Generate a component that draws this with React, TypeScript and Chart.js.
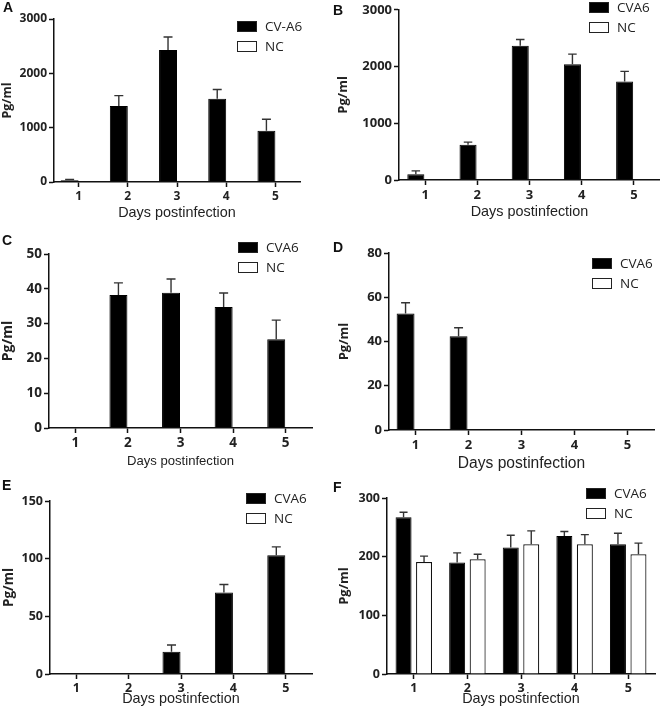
import React, { useEffect, useRef } from "react";
import { Chart, registerables } from "chart.js";
Chart.register(...registerables);

// ---------- data ----------
const days = ["1", "2", "3", "4", "5"];
const seriesNames = ["CV-A6", "CVA6", "CVA6", "CVA6", "CVA6", "CVA6"];
const ncName = "NC";
const yTitle = "Pg/ml";
const xTitle = "Days postinfection";
const panelLetters = ["A", "B", "C", "D", "E", "F"];

const aCVA6 = [30, 1400, 2430, 1530, 945];
const aCVA6Err = [15, 190, 240, 172, 210];
const aNC = [0, 0, 0, 0, 0];

const bCVA6 = [103, 621, 2368, 2040, 1736];
const bCVA6Err = [58, 46, 109, 178, 178];
const bNC = [0, 0, 0, 0, 0];

const cCVA6 = [0, 38.2, 38.9, 34.8, 25.5];
const cCVA6Err = [0, 3.5, 3.9, 4.0, 5.5];
const cNC = [0, 0, 0, 0, 0];

const dCVA6 = [52.7, 42.4, 0, 0, 0];
const dCVA6Err = [4.8, 3.8, 0, 0, 0];
const dNC = [0, 0, 0, 0, 0];

const eCVA6 = [0, 0, 19.3, 70.7, 103];
const eCVA6Err = [0, 0, 5.8, 6.9, 7.2];
const eNC = [0, 0, 0, 0, 0];

const fCVA6 = [267, 190, 215.5, 235.4, 221.2];
const fCVA6Err = [8.6, 16.5, 21, 7.4, 18.8];
const fNC = [191, 195.7, 221, 221, 204];
const fNCErr = [10, 8.5, 23, 16.5, 19];

const yMaxes = [3000, 3000, 50, 80, 150, 300];
const ySteps = [1000, 1000, 10, 20, 50, 100];

const cvaValues = [aCVA6, bCVA6, cCVA6, dCVA6, eCVA6, fCVA6];
const cvaErrors = [aCVA6Err, bCVA6Err, cCVA6Err, dCVA6Err, eCVA6Err, fCVA6Err];
const ncValues = [aNC, bNC, cNC, dNC, eNC, fNC];
const ncErrors = [null, null, null, null, null, fNCErr];

// ---------- layout ----------
type Layout = {
  x0: number; y0: number; w: number;
  L: number; T: number; R: number; B: number;
  titleY: number; xTitleSize: number; tickSize: number;
  yTitleSize: number; yTitleX: number;
  bp: number; cp: number;
  legendX: number; legendY: number;
  letterLeft: number; letterCapTop: number;
};

const layouts: Layout[] = [
  { x0: 0, y0: 0, w: 330, L: 54, T: 19, R: 300, B: 182, titleY: 213, xTitleSize: 14.4, tickSize: 12, yTitleSize: 12.5, yTitleX: 7, bp: 1, cp: 0.73, legendX: 237, legendY: 21, letterLeft: 3, letterCapTop: 2 },
  { x0: 330, y0: 0, w: 330, L: 399, T: 6, R: 660, B: 180, titleY: 212, xTitleSize: 14.4, tickSize: 13, yTitleSize: 13, yTitleX: 13.5, bp: 0.92, cp: 0.71, legendX: 589, legendY: 2, letterLeft: 333, letterCapTop: 5 },
  { x0: 0, y0: 230, w: 330, L: 49, T: 254, R: 312, B: 428, titleY: 461, xTitleSize: 13.1, tickSize: 13.5, yTitleSize: 14, yTitleX: 7.5, bp: 0.95, cp: 0.72, legendX: 238, legendY: 242, letterLeft: 2, letterCapTop: 235 },
  { x0: 330, y0: 230, w: 330, L: 389, T: 253, R: 654, B: 430, titleY: 464, xTitleSize: 15.6, tickSize: 13, yTitleSize: 13, yTitleX: 14, bp: 0.9, cp: 0.75, legendX: 592, legendY: 258, letterLeft: 333, letterCapTop: 242 },
  { x0: 0, y0: 470, w: 330, L: 50, T: 501, R: 312, B: 674, titleY: 699, xTitleSize: 14.4, tickSize: 12.5, yTitleSize: 13.5, yTitleX: 9, bp: 0.95, cp: 0.725, legendX: 246, legendY: 493, letterLeft: 2, letterCapTop: 480 },
  { x0: 330, y0: 470, w: 330, L: 387, T: 498, R: 655, B: 674, titleY: 699, xTitleSize: 14.4, tickSize: 12.5, yTitleSize: 13, yTitleX: 14, bp: 0.78, cp: 0.765, legendX: 586, legendY: 488, letterLeft: 333, letterCapTop: 482 },
];

// ---------- plugins ----------
const errorBarsPlugin = {
  id: "errorBars",
  afterDatasetsDraw(chart: any, _args: any, opts: any) {
    const { ctx } = chart;
    const yScale = chart.scales.y;
    const errs = opts.errors || [];
    chart.data.datasets.forEach((ds: any, di: number) => {
      const e = errs[di];
      if (!e) return;
      const meta = chart.getDatasetMeta(di);
      meta.data.forEach((bar: any, i: number) => {
        const v = ds.data[i] as number;
        const err = e[i];
        if (!err) return;
        const x = bar.x;
        const w = bar.width;
        const p0 = yScale.getPixelForValue(v);
        const p1 = yScale.getPixelForValue(v + err);
        ctx.save();
        ctx.strokeStyle = "#333";
        ctx.lineWidth = 1.4;
        ctx.beginPath();
        ctx.moveTo(x, p0);
        ctx.lineTo(x, p1);
        ctx.moveTo(x - w * 0.25, p1);
        ctx.lineTo(x + w * 0.25, p1);
        ctx.stroke();
        ctx.restore();
      });
    });
  },
};

const boxLegendPlugin = {
  id: "boxLegend",
  afterDraw(chart: any, _args: any, opts: any) {
    const { ctx } = chart;
    ctx.save();
    chart.data.datasets.forEach((ds: any, i: number) => {
      const bx = opts.x;
      const by = opts.y + i * opts.rowGap;
      ctx.fillStyle = ds.backgroundColor;
      ctx.fillRect(bx, by, 20, 11);
      ctx.strokeStyle = "#222";
      ctx.lineWidth = 1;
      ctx.strokeRect(bx + 0.5, by + 0.5, 19, 10);
      ctx.fillStyle = "#222";
      ctx.font = "13.5px 'Open Sans'";
      ctx.textBaseline = "middle";
      ctx.textAlign = "left";
      ctx.fillText(ds.label, bx + 28, by + 6);
    });
    ctx.restore();
  },
};

function Panel({ idx }: { idx: number }) {
  const ref = useRef<HTMLCanvasElement>(null);
  const lay = layouts[idx];
  const lh = lay.xTitleSize * 1.2;
  const h = Math.round(lay.titleY - lay.y0 + lh / 2 + 2);
  const titlePadBottom = h - (lay.titleY - lay.y0) - lh / 2;
  const yLh = lay.yTitleSize * 1.2;

  useEffect(() => {
    const tickFont = { family: "'Open Sans'", weight: "bold" as const, size: lay.tickSize };
    const chart = new Chart(ref.current!, {
      type: "bar",
      data: {
        labels: days,
        datasets: [
          {
            label: seriesNames[idx],
            data: cvaValues[idx],
            backgroundColor: "#000000",
            borderColor: "#000000",
            borderWidth: 1,
            barPercentage: lay.bp,
            categoryPercentage: lay.cp,
          },
          {
            label: ncName,
            data: ncValues[idx],
            backgroundColor: "#ffffff",
            borderColor: "#111111",
            borderWidth: 1.2,
            barPercentage: lay.bp,
            categoryPercentage: lay.cp,
          },
        ],
      },
      options: {
        responsive: false,
        animation: false,
        devicePixelRatio: 1,
        layout: {
          padding: { left: 0, top: lay.T - lay.y0, right: lay.x0 + lay.w - lay.R, bottom: 0 },
        },
        plugins: {
          legend: { display: false },
          tooltip: { enabled: false },
          errorBars: { errors: [cvaErrors[idx], ncErrors[idx]] },
          boxLegend: { x: lay.legendX - lay.x0, y: lay.legendY - lay.y0, rowGap: 20 },
        } as any,
        scales: {
          x: {
            type: "category",
            offset: true,
            grid: {
              display: true,
              drawOnChartArea: false,
              drawTicks: true,
              tickLength: 5,
              tickWidth: 1.5,
              tickColor: "#111",
              offset: false,
            },
            border: { display: true, color: "#111", width: 1.5 },
            ticks: { font: tickFont, color: "#222", padding: 2, maxRotation: 0, autoSkip: false },
            title: {
              display: true,
              text: xTitle,
              font: { family: "'Liberation Sans'", size: lay.xTitleSize },
              color: "#222",
              padding: { top: 0, bottom: titlePadBottom },
            },
            afterFit: (s: any) => {
              s.height = lay.y0 + h - lay.B;
            },
          },
          y: {
            min: 0,
            max: yMaxes[idx],
            grid: {
              display: true,
              drawOnChartArea: false,
              drawTicks: true,
              tickLength: 5,
              tickWidth: 1.5,
              tickColor: "#111",
            },
            border: { display: true, color: "#111", width: 1.5 },
            ticks: {
              stepSize: ySteps[idx],
              font: tickFont,
              color: "#222",
              padding: 2,
              callback: (v: any) => String(v),
            },
            title: {
              display: true,
              text: yTitle,
              font: { family: "'Open Sans'", weight: "bold", size: lay.yTitleSize },
              color: "#222",
              padding: { top: Math.max(0, lay.yTitleX - yLh / 2), bottom: 0 },
            },
            afterFit: (s: any) => {
              s.width = lay.L - lay.x0;
            },
          },
        },
      } as any,
      plugins: [errorBarsPlugin, boxLegendPlugin],
    });
    return () => chart.destroy();
  }, []);

  return (
    <>
      <canvas
        ref={ref}
        width={lay.w}
        height={h}
        style={{ position: "absolute", left: lay.x0, top: lay.y0, width: lay.w, height: h }}
      />
      <div
        style={{
          position: "absolute",
          left: lay.letterLeft,
          top: lay.letterCapTop - 2,
          fontFamily: "'Liberation Sans', Arial, sans-serif",
          fontWeight: "bold",
          fontSize: 14,
          lineHeight: "14px",
          color: "#111",
        }}
      >
        {panelLetters[idx]}
      </div>
    </>
  );
}

export default function App() {
  return (
    <div style={{ position: "absolute", left: 0, top: 0, width: 660, height: 715, background: "#fff" }}>
      {layouts.map((_, i) => (
        <Panel key={i} idx={i} />
      ))}
    </div>
  );
}
